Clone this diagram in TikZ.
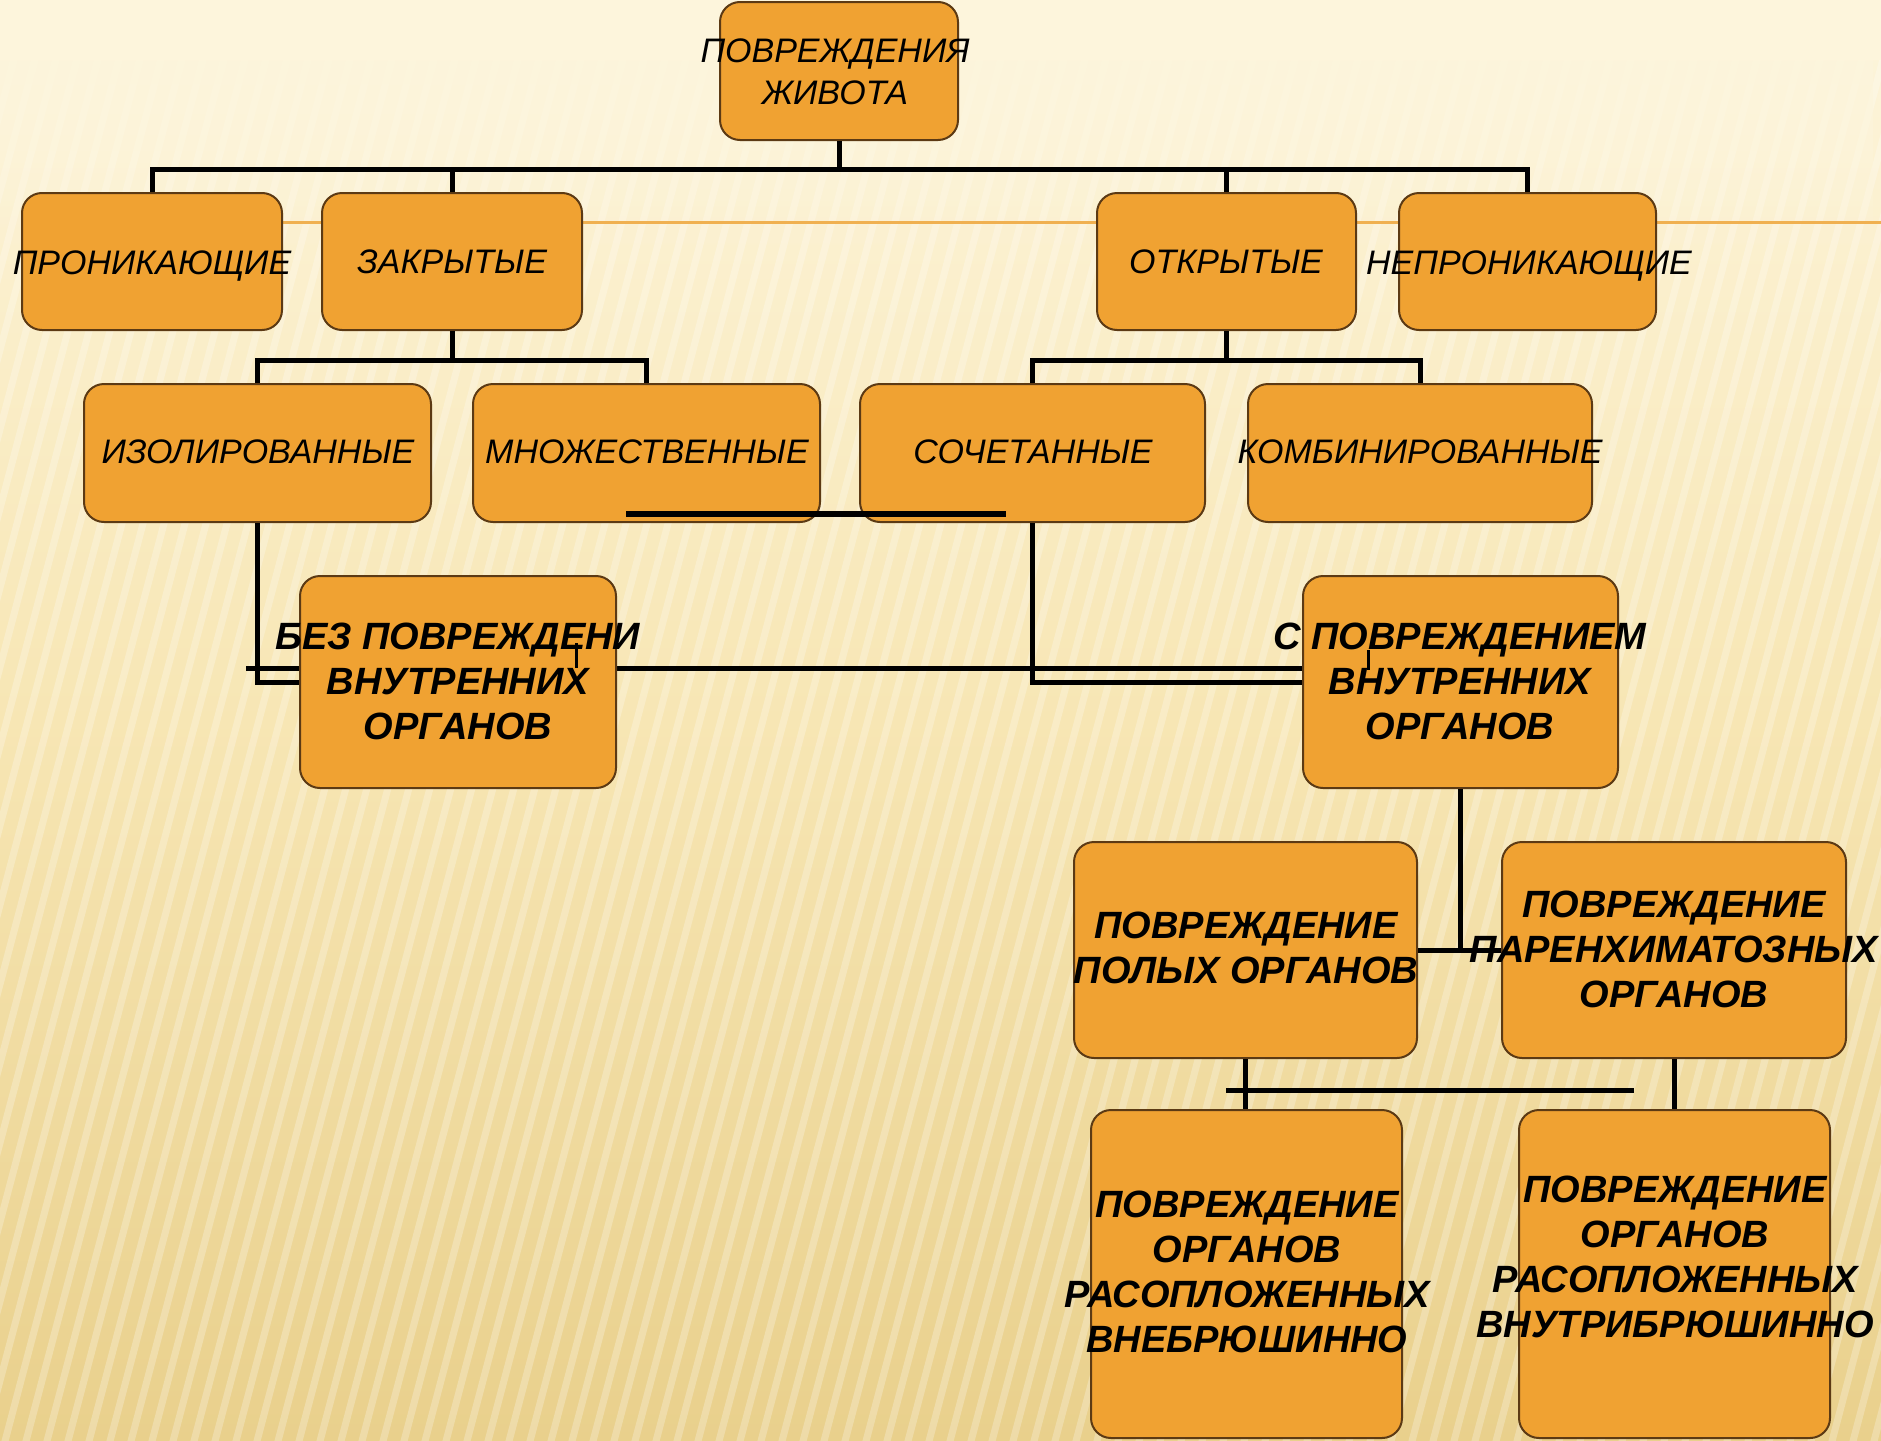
\documentclass[tikz,border=0pt]{standalone}
\usepackage{fontspec}
\setmainfont{Liberation Sans}
\usetikzlibrary{fadings}
\definecolor{boxfill}{HTML}{F0A232}
\definecolor{boxline}{HTML}{5C3A14}
\definecolor{bgtop}{HTML}{FDF5DC}
\definecolor{bgmid}{HTML}{F7E6B4}
\definecolor{bgbot}{HTML}{E9D08C}
\definecolor{themeline}{HTML}{F0B050}
\begin{document}
\begin{tikzpicture}[x=1pt,y=-1pt,
  box/.style={draw=boxline, line width=2pt, fill=boxfill, rounded corners=20pt, inner sep=0pt},
  conn/.style={line width=5pt, black},
  tick/.style={line width=3pt, black},
  lblA/.style={font=\fontsize{34}{42}\selectfont\itshape, align=center, inner sep=0pt},
  lblB/.style={font=\fontsize{38}{45}\selectfont\bfseries\itshape, align=center, inner sep=0pt}]
\useasboundingbox (0,0) rectangle (1881,1440);
% background
\begin{scope}
\clip (0,0) rectangle (1881,1440);
\shade[top color=bgtop, bottom color=bgbot, middle color=bgmid] (0,0) rectangle (1881,1440);
\foreach \i in {-25,...,95}
  \draw[white, opacity=0.25, line width=7pt] (\i*21,1460) -- (\i*21+392,-20);
\fill[bgtop, path fading=south] (0,40) rectangle (1881,260);
\fill[bgtop] (0,0) rectangle (1881,60);
\end{scope}
\coordinate (thA) at (282,222);
\coordinate (thB) at (1881,222);
\draw[themeline, line width=3pt] (thA) -- (thB);

% line hidden behind the box
\coordinate (hl) at (246,668);
\coordinate (hl2) at (1303,668);
% boxes
\node[box, minimum width=238pt, minimum height=138pt] (root) at (839,71) {};
\node[box, minimum width=260pt, minimum height=137pt] (pen) at (152,261.5) {};
\node[box, minimum width=260pt, minimum height=137pt] (clo) at (452,261.5) {};
\node[box, minimum width=259pt, minimum height=137pt] (opn) at (1226.5,261.5) {};
\node[box, minimum width=257pt, minimum height=137pt] (npn) at (1527.5,261.5) {};
\node[box, minimum width=347pt, minimum height=138pt] (izo) at (257.5,453) {};
\node[box, minimum width=347pt, minimum height=138pt] (mno) at (646.5,453) {};
\node[box, minimum width=345pt, minimum height=138pt] (soc) at (1032.5,453) {};
\node[box, minimum width=344pt, minimum height=138pt] (kom) at (1420,453) {};
\draw[conn] (hl) -- (hl2);
\node[box, minimum width=316pt, minimum height=212pt] (bez) at (458,682) {};
\node[box, minimum width=315pt, minimum height=212pt] (spv) at (1460.5,682) {};
\node[box, minimum width=343pt, minimum height=216pt] (pol) at (1245.5,950) {};
\node[box, minimum width=344pt, minimum height=216pt] (par) at (1674,950) {};
\node[box, minimum width=311pt, minimum height=328pt] (vne) at (1246.5,1274) {};
\node[box, minimum width=311pt, minimum height=328pt] (vnu) at (1674.5,1274) {};

% connectors
\draw[conn] (root.south) -- ++(0,28) coordinate (b1);
\draw[conn] (pen.north) -- (pen.north |- b1) -- (npn.north |- b1) -- (npn.north);
\draw[conn] (clo.north) -- (clo.north |- b1);
\draw[conn] (opn.north) -- (opn.north |- b1);
\draw[conn] (clo.south) -- ++(0,29) coordinate (b2);
\draw[conn] (izo.north) -- (izo.north |- b2) -- (mno.north |- b2) -- (mno.north);
\draw[conn] (opn.south) -- ++(0,29) coordinate (b3);
\draw[conn] (soc.north) -- (soc.north |- b3) -- (kom.north |- b3) -- (kom.north);
\coordinate (oddA) at (626,514);
\coordinate (oddB) at (1006,514);
\draw[conn, line width=6pt] (oddA) -- (oddB);
\draw[conn] (izo.south) |- (bez.west);
\draw[conn] (soc.south) |- (spv.west);
\coordinate (tk1a) at (576,643);
\coordinate (tk1b) at (576,668);
\draw[tick] (tk1a) -- (tk1b);
\coordinate (tk2a) at (1368,650);
\coordinate (tk2b) at (1368,670);
\draw[tick] (tk2a) -- (tk2b);
\draw[conn] (spv.south) -- (spv.south |- pol.east);
\draw[conn] (pol.east) -- (par.west);
\draw[conn] (pol.south) -- (pol.south |- vne.north);
\draw[conn] (par.south) -- (par.south |- vnu.north);
\coordinate (hbA) at (1226,1090);
\coordinate (hbB) at (1634,1090);
\draw[conn] (hbA) -- (hbB);

% labels
\node[lblA] (troot) at (835,72) {ПОВРЕЖДЕНИЯ\\ЖИВОТА};
\node[lblA] (tpen) at (152,266) {ПРОНИКАЮЩИЕ};
\node[lblA] (tclo) at (452,262) {ЗАКРЫТЫЕ};
\node[lblA] (topn) at (1226,262) {ОТКРЫТЫЕ};
\node[lblA] (tnpn) at (1529,266) {НЕПРОНИКАЮЩИЕ};
\node[lblA] (tizo) at (258,452) {ИЗОЛИРОВАННЫЕ};
\node[lblA] (tmno) at (647,452) {МНОЖЕСТВЕННЫЕ};
\node[lblA] (tsoc) at (1033,452) {СОЧЕТАННЫЕ};
\node[lblA] (tkom) at (1420,452) {КОМБИНИРОВАННЫЕ};
\node[lblB] (tbez) at (458,681) {БЕЗ ПОВРЕЖДЕНИ\\ВНУТРЕННИХ\\ОРГАНОВ};
\node[lblB] (tspv) at (1460,681) {С ПОВРЕЖДЕНИЕМ\\ВНУТРЕННИХ\\ОРГАНОВ};
\node[lblB] (tpol) at (1246,948) {ПОВРЕЖДЕНИЕ\\ПОЛЫХ ОРГАНОВ};
\node[lblB] (tpar) at (1674,949) {ПОВРЕЖДЕНИЕ\\ПАРЕНХИМАТОЗНЫХ\\ОРГАНОВ};
\node[lblB] (tvne) at (1247,1272) {ПОВРЕЖДЕНИЕ\\ОРГАНОВ\\РАСОПЛОЖЕННЫХ\\ВНЕБРЮШИННО};
\node[lblB] (tvnu) at (1675,1257) {ПОВРЕЖДЕНИЕ\\ОРГАНОВ\\РАСОПЛОЖЕННЫХ\\ВНУТРИБРЮШИННО};
\end{tikzpicture}
\end{document}
